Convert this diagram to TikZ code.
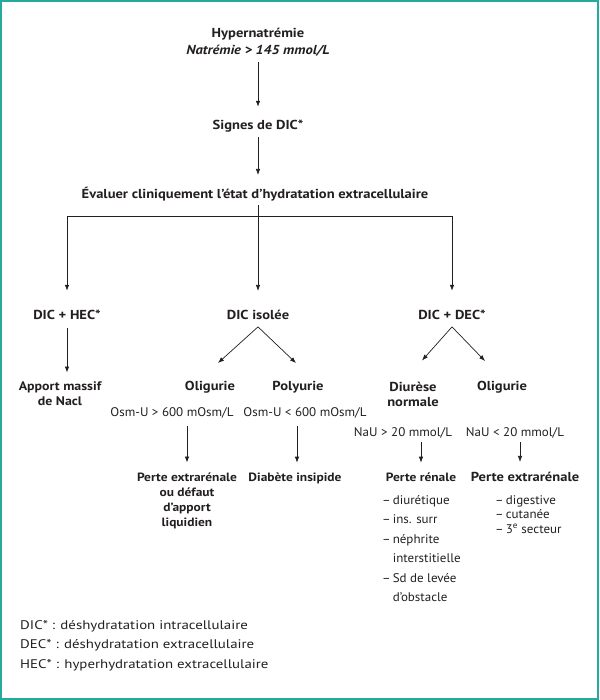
\documentclass[tikz,border=0pt]{standalone}
\usepackage{fontspec}
\setmainfont{PT Sans}[FakeStretch=1.19, BoldFeatures={FakeStretch=1.12}, BoldItalicFeatures={FakeStretch=1.12}]
\newfontfamily\condfont{PT Sans}[FakeStretch=1.04]
\newcommand{\itemdash}{–\hspace{2pt}}
\newcommand{\itemgap}{\phantom{–}\hspace{2pt}}
\usetikzlibrary{arrows.meta}
\definecolor{framecol}{RGB}{38,170,160}
\definecolor{ink}{RGB}{35,31,32}
\begin{document}
\begin{tikzpicture}[x=1pt,y=-1pt,
  every node/.style={inner sep=0pt, text=ink},
  bt/.style={font=\fontsize{13}{15}\selectfont\bfseries},
  bs/.style={font=\fontsize{12}{15}\selectfont\bfseries},
  ct/.style={font=\fontsize{12.5}{15}\selectfont\condfont},
  rt/.style={font=\fontsize{12.5}{15}\selectfont},
  one/.style={anchor=base},
  multi/.style={anchor=north, align=center},
  arr/.style={draw=ink, line width=0.7pt, -{Latex[length=6pt,width=4.5pt]}},
  ln/.style={draw=ink, line width=0.7pt}]
\useasboundingbox (0,0) rectangle (599,700);
\draw[framecol, line width=1.6pt] (0.8,0.8) rectangle (598.2,699.2);

% top chain
\node[bt, multi, font=\fontsize{13}{17}\selectfont\bfseries] (hyp) at (258,27.5) {Hypernatrémie\\{\itshape Natrémie > 145 mmol/L}};
\node[bt, one] (signes) at (258,129.5) {Signes de DIC*};
\node[bt, one] (eval) at (255,198.5) {Évaluer cliniquement l’état d’hydratation extracellulaire};

\draw[arr, shorten <=6pt, shorten >=13pt] (hyp.south) -- (signes.north);
\draw[arr, shorten <=5pt, shorten >=12pt] (signes.south) -- (signes |- eval.north);

% level 2
\node[bt, one] (dichec) at (67,319.5) {DIC + HEC*};
\node[bt, one] (dicisol) at (258,319.5) {DIC isolée};
\node[bt, one] (dicdec) at (452,319.5) {DIC + DEC*};

\coordinate (jn) at (258,216);
\draw[ln, shorten <=4pt] (signes |- eval.south) -- (jn);
\draw[ln] (dichec |- jn) -- (dicdec |- jn);
\draw[arr, shorten >=19pt] (dichec |- jn) -- (dichec.north);
\draw[arr, shorten >=19pt] (jn) -- (dicisol.north);
\draw[arr, shorten >=19pt] (dicdec |- jn) -- (dicdec.north);

% DIC + HEC
\node[multi, font=\fontsize{12.4}{14.5}\selectfont\bfseries] (apport) at (60,381.5) {Apport massif\\de Nacl};
\draw[arr, shorten <=8pt, shorten >=9pt] (dichec.south) -- (dichec |- apport.north);

% DIC isolee
\node[bt, one] (olig1) at (210,390.5) {Oligurie};
\node[bt, one] (poly) at (298,390.5) {Polyurie};
\draw[arr] ([yshift=-7pt]dicisol.south) -- ([xshift=8pt,yshift=18pt]olig1.north);
\draw[arr] ([yshift=-7pt]dicisol.south) -- ([xshift=-2pt,yshift=18pt]poly.north);

\node[ct, one] (osm1) at (172,416.5) {Osm-U > 600 mOsm/L};
\node[ct, one] (osm2) at (305,416.5) {Osm-U < 600 mOsm/L};

\node[bs, multi] (perte1) at (187,472.5) {Perte extrarénale\\ou défaut\\d’apport\\liquidien};
\node[bs, one] (diab) at (295,481.5) {Diabète insipide};
\draw[arr, shorten <=8pt, shorten >=10pt] (perte1 |- osm1.south) -- (perte1.north);
\draw[arr, shorten <=8pt, shorten >=10pt] ([xshift=2pt]diab |- osm2.south) -- ([xshift=2pt]diab.north);

% DIC + DEC
\node[bt, multi] (diur) at (413,381.5) {Diurèse\\normale};
\node[bt, one] (olig2) at (502,390.5) {Oligurie};
\draw[arr] ([yshift=-7pt]dicdec.south) -- ([xshift=9pt,yshift=21pt]diur.north);
\draw[arr] ([yshift=-7pt]dicdec.south) -- ([xshift=-17pt,yshift=20pt]olig2.north);

\node[ct, one] (nau1) at (403,436.5) {NaU > 20 mmol/L};
\node[ct, one] (nau2) at (515,436.5) {NaU < 20 mmol/L};

\node[bs, one] (renal) at (421,481.5) {Perte rénale};
\node[bt, one] (extra) at (525,481.5) {Perte extrarénale};
\draw[arr, shorten <=4pt, shorten >=10pt] (renal |- nau1.south) -- (renal.north);
\draw[arr, shorten <=4pt, shorten >=10pt] ([xshift=5pt]nau2.south) -- ([xshift=-5pt]extra.north);

\node[anchor=north west, align=left, font=\fontsize{12.5}{19.5}\selectfont\condfont] (list1) at (382,495)
  {\itemdash diurétique\\\itemdash ins. surr\\\itemdash néphrite\\\itemgap interstitielle\\\itemdash Sd de levée\\\itemgap d’obstacle};
\node[anchor=north west, align=left, font=\fontsize{12.5}{14.3}\selectfont\condfont] (list2) at (495,495.5)
  {\itemdash digestive\\\itemdash cutanée\\\itemdash 3\textsuperscript{e} secteur};

% legend
\node[rt, anchor=north west, align=left, font=\fontsize{12.5}{19.2}\selectfont] (legend) at (20,620.5)
  {DIC* : déshydratation intracellulaire\\DEC* : déshydratation extracellulaire\\HEC* : hyperhydratation extracellulaire};
\end{tikzpicture}
\end{document}
